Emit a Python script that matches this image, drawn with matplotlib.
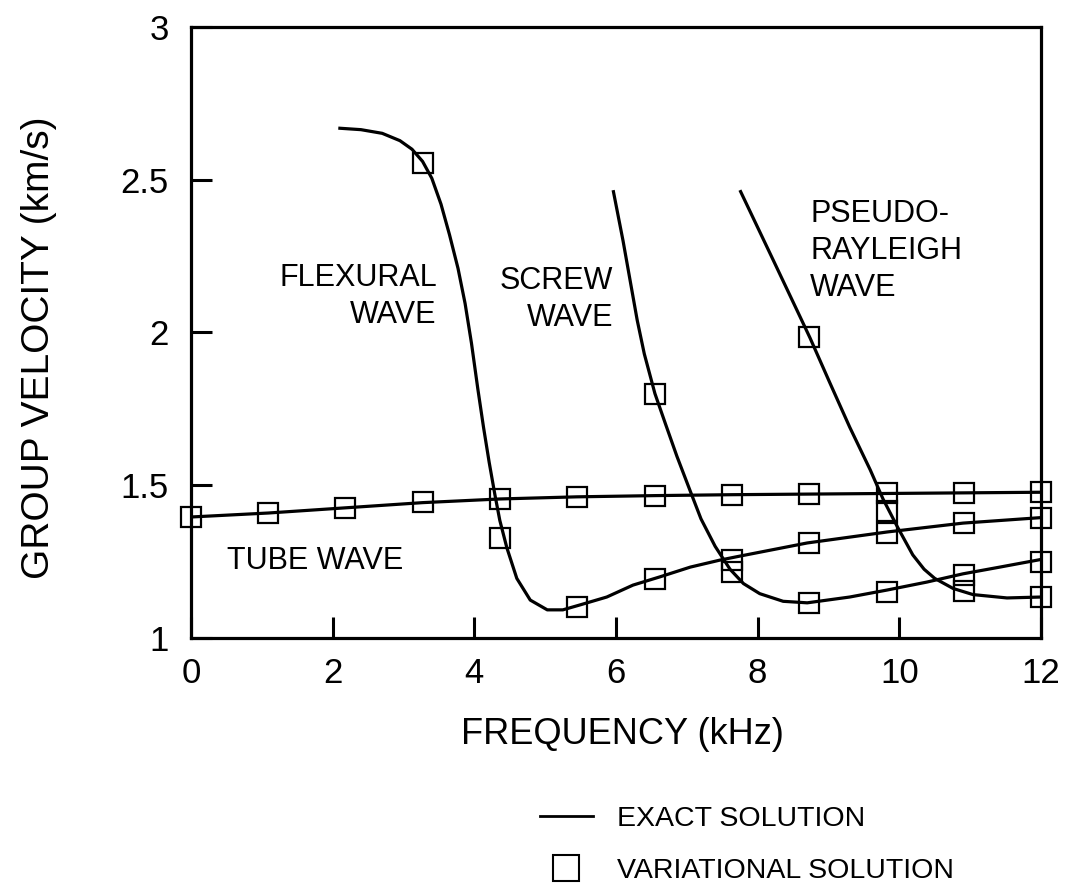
import numpy as np
import matplotlib
matplotlib.use("Agg")
import matplotlib.pyplot as plt
from matplotlib.lines import Line2D

plt.rcParams["font.family"] = ["Liberation Sans", "DejaVu Sans"]

# exact solution curves (kHz, km/s)
tube_f = [0.0, 1.09, 2.18, 3.27, 4.36, 5.45, 6.55, 7.64, 8.73, 9.82, 10.91, 12.0]
tube_v = [1.396, 1.409, 1.426, 1.443, 1.455, 1.462, 1.466, 1.469, 1.471, 1.473, 1.475, 1.477]

flex_f = [2.08, 2.40, 2.70, 2.95, 3.12, 3.27, 3.40, 3.53, 3.65, 3.77, 3.87, 3.96, 4.05,
          4.13, 4.21, 4.29, 4.36, 4.46, 4.60, 4.79, 5.03, 5.25, 5.49, 5.87, 6.24, 6.62,
          7.05, 7.47, 7.75, 8.70, 9.83, 10.90, 12.0]
flex_v = [2.669, 2.664, 2.652, 2.628, 2.600, 2.560, 2.505, 2.420, 2.320, 2.210, 2.095, 1.965,
          1.815, 1.690, 1.575, 1.470, 1.385, 1.295, 1.195, 1.124, 1.092, 1.092, 1.108, 1.134,
          1.173, 1.200, 1.232, 1.255, 1.268, 1.311, 1.347, 1.376, 1.394]

screw_f = [5.96, 6.10, 6.20, 6.30, 6.40, 6.55, 6.70, 6.86, 7.05, 7.20, 7.40, 7.61,
           7.80, 8.03, 8.36, 8.70, 9.30, 9.83, 10.39, 10.90, 11.42, 12.0]
screw_v = [2.466, 2.30, 2.17, 2.04, 1.93, 1.80, 1.70, 1.595, 1.480, 1.390, 1.300, 1.225,
           1.178, 1.145, 1.120, 1.115, 1.134, 1.157, 1.183, 1.210, 1.232, 1.257]

pr_f = [7.75, 8.22, 8.60, 8.74, 9.02, 9.30, 9.59, 9.77, 9.97, 10.19, 10.35, 10.50,
        10.76, 11.04, 11.52, 12.0]
pr_v = [2.466, 2.237, 2.051, 1.982, 1.835, 1.690, 1.550, 1.455, 1.365, 1.272, 1.225, 1.195,
        1.162, 1.142, 1.131, 1.134]

# variational solution points
var_tube_f = tube_f
var_tube_v = [1.396, 1.409, 1.426, 1.445, 1.455, 1.462, 1.465, 1.468, 1.471, 1.473, 1.475, 1.477]
var_flex_f = [3.27, 4.36, 5.45, 6.55, 7.64, 8.73, 9.82, 10.91, 12.0]
var_flex_v = [2.555, 1.327, 1.10, 1.192, 1.255, 1.311, 1.345, 1.376, 1.393]
var_screw_f = [6.55, 7.64, 8.73, 9.82, 10.91, 12.0]
var_screw_v = [1.80, 1.216, 1.115, 1.152, 1.206, 1.249]
var_pr_f = [8.73, 9.82, 10.91, 12.0]
var_pr_v = [1.985, 1.415, 1.155, 1.134]

fig = plt.figure(figsize=(10.68, 8.92), dpi=100)
ax = fig.add_axes([0.1788, 0.2848, 0.7959, 0.6849])

for f, v in [(tube_f, tube_v), (flex_f, flex_v), (screw_f, screw_v), (pr_f, pr_v)]:
    ax.plot(f, v, color="black", lw=2.3, solid_capstyle="butt", solid_joinstyle="round")

for f, v in [(var_tube_f, var_tube_v), (var_flex_f, var_flex_v),
             (var_screw_f, var_screw_v), (var_pr_f, var_pr_v)]:
    ax.plot(f, v, ls="none", marker="s", ms=14, mfc="none", mec="black",
            mew=1.6, clip_on=False)

ax.set_xlim(0, 12)
ax.set_ylim(1, 3)
ax.set_xticks([0, 2, 4, 6, 8, 10, 12])
ax.set_yticks([1, 1.5, 2, 2.5, 3])
ax.set_yticklabels(["1", "1.5", "2", "2.5", "3"])
ax.tick_params(direction="in", length=15, width=2.2, labelsize=25)
ax.tick_params(axis="x", pad=14)
ax.tick_params(axis="y", pad=16)
for s in ax.spines.values():
    s.set_linewidth(2.3)

ax.set_xlabel("FREQUENCY (kHz)", fontsize=26)
ax.set_ylabel("GROUP VELOCITY (km/s)", fontsize=28)
ax.xaxis.set_label_coords(0.508, -0.13)
ax.yaxis.set_label_coords(-0.158, 0.475)

txt = dict(fontsize=22, color="black", linespacing=1.3)
ax.text(3.47, 2.118, "FLEXURAL\nWAVE", ha="right", va="center", multialignment="right", **txt)
ax.text(5.96, 2.108, "SCREW\nWAVE", ha="right", va="center", multialignment="right", **txt)
ax.text(8.74, 2.267, "PSEUDO-\nRAYLEIGH\nWAVE", ha="left", va="center", **txt)
ax.text(0.51, 1.252, "TUBE WAVE", ha="left", va="center", **txt)

handles = [Line2D([], [], color="black", lw=2.0),
           Line2D([], [], ls="none", marker="s", ms=19, mfc="none", mec="black", mew=1.5)]
fig.legend(handles, ["EXACT SOLUTION", "VARIATIONAL SOLUTION"],
           loc="upper left", bbox_to_anchor=(540 / 1068, 1 - 806 / 892),
           frameon=False, fontsize=20.5, handlelength=1.85, handletextpad=0.85,
           labelspacing=0.9, borderpad=0, borderaxespad=0)

fig.savefig("out.png", dpi=100)
